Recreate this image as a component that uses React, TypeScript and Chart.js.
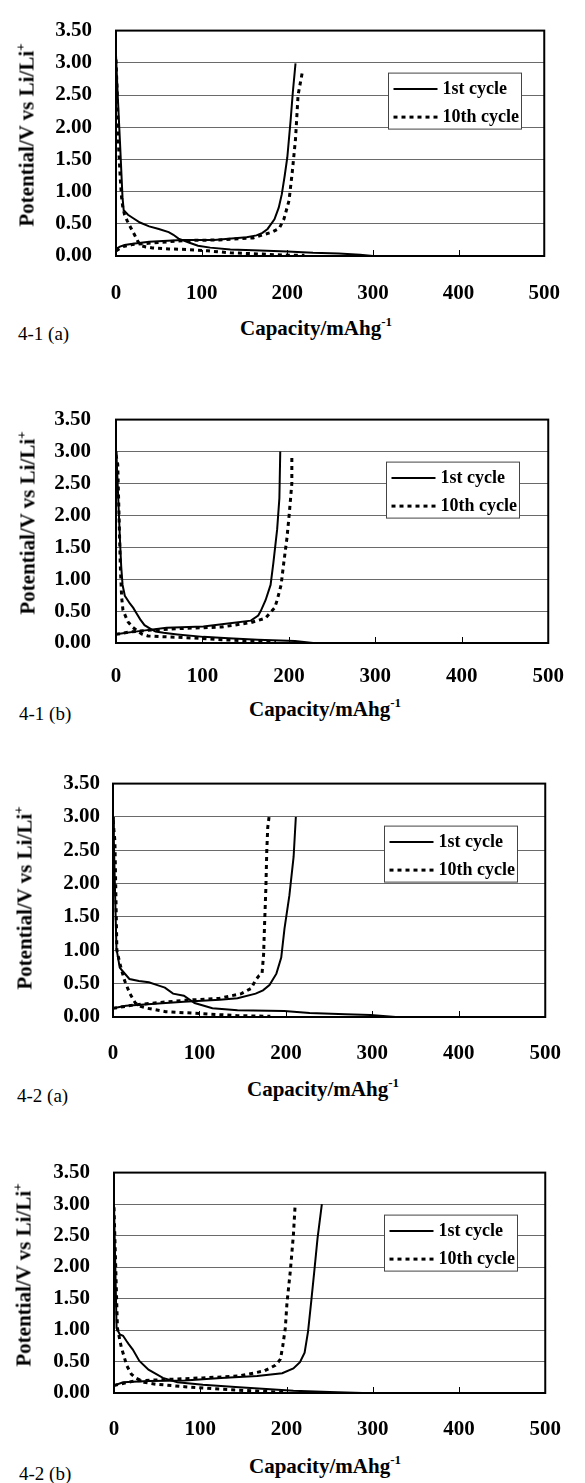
import React, { useEffect, useRef } from "react";
import { Chart, registerables } from "chart.js";

Chart.register(...registerables);

type Pt = [number, number];

// ---------- axes / text ----------
const capacityTicks = [0, 100, 200, 300, 400, 500];
const innerTickValues = [100, 200, 300, 400];
const potentialTicks = [0, 0.5, 1, 1.5, 2, 2.5, 3, 3.5];
const legendLabels = ["1st cycle", "10th cycle"];
const panelLabels = ["4-1 (a)", "4-1 (b)", "4-2 (a)", "4-2 (b)"];
const xTitle = "Capacity/mAhg";
const xTitleSup = "-1";
const yTitle = "Potential/V vs Li/Li";
const yTitleSup = "+";

// ---------- 4-1 (a) ----------
const a41_1st_discharge: Pt[] = [[0, 3.12], [2, 2.5], [4.6, 1.78], [7.6, 0.91], [9, 0.71], [14, 0.64], [19.7, 0.59], [28, 0.52], [38.7, 0.46], [50, 0.42], [61.5, 0.37], [67, 0.33], [73, 0.27], [85, 0.21], [95.7, 0.16], [110, 0.13], [133.5, 0.1], [160, 0.09], [200, 0.07], [230, 0.05], [260, 0.04], [285, 0.02], [300, 0.0]];
const a41_1st_charge: Pt[] = [[0, 0.11], [4.6, 0.145], [10, 0.17], [19.7, 0.19], [38.7, 0.22], [76.6, 0.25], [114.5, 0.25], [135, 0.27], [152.5, 0.29], [164, 0.32], [171, 0.36], [177, 0.42], [185, 0.57], [190, 0.75], [193.6, 0.96], [197, 1.25], [200, 1.53], [203.9, 2.11], [206.5, 2.55], [209.6, 2.99]];
const a41_10th_discharge: Pt[] = [[0, 3.05], [1.5, 2.5], [2.7, 1.78], [5, 1.2], [6.5, 0.91], [8, 0.75], [10, 0.64], [13, 0.55], [16, 0.47], [21.6, 0.33], [25.4, 0.23], [29.2, 0.16], [35, 0.14], [42.5, 0.125], [61.5, 0.11], [84, 0.1], [107, 0.08], [133.5, 0.05], [171, 0.03], [194, 0.015], [220, 0.01]];
const a41_10th_charge: Pt[] = [[0, 0.08], [8.3, 0.145], [19.7, 0.18], [40, 0.2], [80, 0.24], [120, 0.25], [160, 0.28], [171.6, 0.33], [182, 0.37], [190.6, 0.43], [196, 0.57], [202, 0.86], [205.7, 1.29], [209.6, 1.82], [212.6, 2.5], [217.9, 2.88]];

// ---------- 4-1 (b) ----------
const b41_1st_discharge: Pt[] = [[0, 3.0], [0.7, 2.9], [2.5, 2.3], [4.5, 1.64], [6, 1.2], [7.6, 0.91], [10.2, 0.74], [16, 0.62], [20, 0.55], [23.5, 0.47], [28, 0.37], [33, 0.28], [40, 0.22], [45.7, 0.18], [55, 0.16], [71, 0.135], [101, 0.096], [130, 0.075], [164, 0.05], [207, 0.03], [228, 0.0]];
const b41_1st_charge: Pt[] = [[0, 0.135], [10, 0.155], [29, 0.19], [58.5, 0.24], [101, 0.26], [139, 0.32], [156, 0.35], [164.5, 0.43], [167.4, 0.5], [173, 0.67], [178.8, 0.91], [182, 1.25], [186.4, 1.78], [189, 2.27], [190, 3.0]];
const b41_10th_discharge: Pt[] = [[0, 2.95], [2, 2.8], [3.5, 2.0], [5, 1.2], [6.5, 0.72], [8, 0.52], [11, 0.42], [14, 0.33], [19, 0.25], [24.6, 0.19], [30, 0.14], [37, 0.11], [50, 0.1], [71, 0.09], [100, 0.07], [122, 0.05], [164, 0.03], [185, 0.02]];
const b41_10th_charge: Pt[] = [[0, 0.135], [15, 0.17], [37, 0.2], [80, 0.23], [122, 0.25], [156, 0.32], [173, 0.39], [180.7, 0.51], [183.5, 0.55], [186.4, 0.67], [191, 0.91], [194, 1.25], [197.7, 1.64], [200.4, 2.02], [203.4, 2.5], [203.4, 2.92]];

// ---------- 4-2 (a) ----------
const a42_1st_discharge: Pt[] = [[0, 3.0], [1, 2.64], [2.5, 1.8], [4, 1.03], [7.8, 0.74], [11, 0.69], [19, 0.57], [30, 0.54], [41.5, 0.52], [53, 0.47], [60, 0.44], [69.5, 0.35], [82, 0.32], [94.4, 0.21], [115, 0.13], [144, 0.1], [198, 0.09], [227.5, 0.06], [269, 0.04], [298, 0.03], [327, 0.0]];
const a42_1st_charge: Pt[] = [[0, 0.13], [15, 0.17], [40, 0.19], [82, 0.23], [123.5, 0.26], [144, 0.28], [165, 0.35], [173.5, 0.4], [181, 0.48], [189, 0.65], [194.6, 0.89], [198.4, 1.33], [204, 1.82], [208.9, 2.4], [211.5, 3.0]];
const a42_10th_discharge: Pt[] = [[0, 2.95], [2.2, 2.64], [4.5, 1.0], [8, 0.8], [10, 0.7], [13.3, 0.55], [19.5, 0.35], [25.8, 0.21], [32, 0.16], [40, 0.13], [61, 0.08], [103, 0.05], [144, 0.02], [182, 0.01]];
const a42_10th_charge: Pt[] = [[0, 0.13], [23.7, 0.18], [82, 0.25], [123.5, 0.28], [148.5, 0.35], [160, 0.43], [164.7, 0.55], [169, 0.62], [172.4, 0.65], [174.2, 0.94], [175.3, 1.38], [176.8, 1.92], [177.9, 2.5], [179, 2.84], [180.5, 3.0]];

// ---------- 4-2 (b) ----------
const b42_1st_discharge: Pt[] = [[0, 3.0], [1.5, 2.0], [3, 1.03], [6.8, 0.93], [10.5, 0.91], [14.3, 0.83], [16.8, 0.78], [21.8, 0.69], [29.4, 0.51], [40, 0.37], [56.7, 0.24], [73.5, 0.17], [103, 0.13], [145, 0.09], [208, 0.035], [250, 0.015], [288, 0.0]];
const b42_1st_charge: Pt[] = [[0, 0.12], [10.5, 0.17], [40, 0.19], [82, 0.2], [124, 0.24], [166, 0.27], [195, 0.315], [208, 0.39], [215.6, 0.49], [221, 0.64], [225, 0.98], [228.8, 1.47], [232.5, 1.97], [236, 2.46], [241, 3.0]];
const b42_10th_discharge: Pt[] = [[0, 2.95], [2, 2.0], [4, 1.03], [8.4, 0.73], [14.7, 0.44], [20, 0.3], [25, 0.24], [35, 0.17], [48, 0.14], [82, 0.1], [124, 0.06], [166, 0.03], [200, 0.01]];
const b42_10th_charge: Pt[] = [[0, 0.12], [23, 0.19], [61, 0.215], [103, 0.24], [145, 0.27], [174, 0.35], [187, 0.44], [190.4, 0.49], [193, 0.54], [195.6, 0.74], [198.6, 1.03], [200.5, 1.42], [204.3, 1.92], [208, 2.51], [210, 2.98]];

const panelSeries = [
  [a41_1st_discharge, a41_1st_charge, a41_10th_discharge, a41_10th_charge],
  [b41_1st_discharge, b41_1st_charge, b41_10th_discharge, b41_10th_charge],
  [a42_1st_discharge, a42_1st_charge, a42_10th_discharge, a42_10th_charge],
  [b42_1st_discharge, b42_1st_charge, b42_10th_discharge, b42_10th_charge],
];

// ---------- layout (pixels) ----------
type Geo = {
  plotLeft: number; plotRight: number; plotTop: number; plotBottom: number;
  yLabPad: number; xLabPad: number; yTitleX: number; xTitleX: number; xTitleY: number;
  figLabelX: number; figLabelY: number; legendLeft: number;
};
const layouts: Geo[] = [
  { plotLeft: 116, plotRight: 555, plotTop: 14, plotBottom: 256, yLabPad: 24, xLabPad: 25, yTitleX: 27, xTitleX: 316, xTitleY: 328, figLabelX: 18, figLabelY: 333, legendLeft: 388 },
  { plotLeft: 116, plotRight: 557, plotTop: 402, plotBottom: 643, yLabPad: 25, xLabPad: 21, yTitleX: 28, xTitleX: 325, xTitleY: 709, figLabelX: 19, figLabelY: 713, legendLeft: 386 },
  { plotLeft: 113, plotRight: 560, plotTop: 778, plotBottom: 1017, yLabPad: 13, xLabPad: 24, yTitleX: 25, xTitleX: 323, xTitleY: 1089, figLabelX: 17, figLabelY: 1095, legendLeft: 384 },
  { plotLeft: 114, plotRight: 557, plotTop: 1156, plotBottom: 1393, yLabPad: 24, xLabPad: 24, yTitleX: 24, xTitleX: 325, xTitleY: 1466, figLabelX: 19, figLabelY: 1473, legendLeft: 384 },
];

const W = 585;
const TOP_PAD = 20;
const BOTTOM_H = 50;
const FONT = "'Liberation Serif', 'Times New Roman', serif";
const TICK_SIZE = 21;
const LEGEND_W = 133;
const LEGEND_H = 56;
const DASH = [4, 4];

function toXY(pts: Pt[]) {
  return pts.map(([x, y]) => ({ x, y }));
}

function Panel({ series, geo, label }: { series: Pt[][]; geo: Geo; label: string }) {
  const ref = useRef<HTMLCanvasElement | null>(null);
  const canvasTop = geo.plotTop - TOP_PAD;
  const H = geo.plotBottom - geo.plotTop + TOP_PAD + BOTTOM_H;

  useEffect(() => {
    const canvas = ref.current;
    if (!canvas) return;
    const framePlugin = {
      id: "frame",
      afterDatasetsDraw(chart: any) {
        const { ctx, chartArea: a, scales } = chart;
        ctx.save();
        // inner tick marks on the capacity axis
        ctx.strokeStyle = "#000";
        ctx.lineWidth = 1;
        for (const v of innerTickValues) {
          const x = Math.round(scales.x.getPixelForValue(v)) + 0.5;
          ctx.beginPath();
          ctx.moveTo(x, a.bottom);
          ctx.lineTo(x, a.bottom - 6);
          ctx.stroke();
        }
        // plot frame
        ctx.lineWidth = 2;
        ctx.strokeRect(a.left, a.top, a.right - a.left, a.bottom - a.top);
        // legend box
        const lx = geo.legendLeft + 0.5;
        const ly = a.top + 42 + 0.5;
        ctx.fillStyle = "#fff";
        ctx.fillRect(lx, ly, LEGEND_W, LEGEND_H);
        ctx.strokeStyle = "#444";
        ctx.lineWidth = 1;
        ctx.strokeRect(lx, ly, LEGEND_W, LEGEND_H);
        const rows = [ly + 16, ly + 44];
        ctx.strokeStyle = "#000";
        // solid sample
        ctx.lineWidth = 2;
        ctx.setLineDash([]);
        ctx.beginPath();
        ctx.moveTo(lx + 5, rows[0]);
        ctx.lineTo(lx + 49, rows[0]);
        ctx.stroke();
        // dashed sample
        ctx.lineWidth = 3;
        ctx.setLineDash(DASH);
        ctx.beginPath();
        ctx.moveTo(lx + 5, rows[1]);
        ctx.lineTo(lx + 51, rows[1]);
        ctx.stroke();
        ctx.setLineDash([]);
        ctx.fillStyle = "#000";
        ctx.font = `bold 18px ${FONT}`;
        ctx.textBaseline = "middle";
        ctx.textAlign = "left";
        ctx.fillText(legendLabels[0], lx + 54, rows[0]);
        ctx.fillText(legendLabels[1], lx + 54, rows[1]);
        ctx.restore();
      },
    };

    const solid = { borderColor: "#000", borderWidth: 2, showLine: true, pointRadius: 0, tension: 0, fill: false };
    const dashed = { borderColor: "#000", borderWidth: 3, borderDash: DASH, borderCapStyle: "butt", showLine: true, pointRadius: 0, tension: 0, fill: false };

    const chart = new Chart(canvas, {
      type: "scatter",
      data: {
        datasets: [
          { label: legendLabels[0], data: toXY(series[0]), ...solid },
          { label: legendLabels[0], data: toXY(series[1]), ...solid },
          { label: legendLabels[1], data: toXY(series[2]), ...dashed },
          { label: legendLabels[1], data: toXY(series[3]), ...dashed },
        ] as any,
      },
      options: {
        animation: false,
        responsive: false,
        devicePixelRatio: 1,
        layout: { padding: { top: TOP_PAD, right: W - geo.plotRight, left: 0, bottom: 0 } },
        plugins: { legend: { display: false }, tooltip: { enabled: false } },
        scales: {
          x: {
            type: "linear",
            min: capacityTicks[0],
            max: capacityTicks[capacityTicks.length - 1],
            afterBuildTicks: (s: any) => {
              s.ticks = capacityTicks.map((v) => ({ value: v }));
            },
            grid: { display: false, drawTicks: false },
            border: { display: false },
            ticks: {
              color: "#000",
              font: { family: FONT, size: TICK_SIZE, weight: "bold" },
              padding: geo.xLabPad,
              maxRotation: 0,
              autoSkip: false,
            },
            afterFit: (s: any) => {
              s.height = BOTTOM_H;
            },
          },
          y: {
            type: "linear",
            min: potentialTicks[0],
            max: potentialTicks[potentialTicks.length - 1],
            afterBuildTicks: (s: any) => {
              s.ticks = potentialTicks.map((v) => ({ value: v }));
            },
            grid: { color: "#6a6a6a", lineWidth: 1, drawTicks: false },
            border: { display: false },
            ticks: {
              color: "#000",
              font: { family: FONT, size: TICK_SIZE, weight: "bold" },
              padding: geo.yLabPad,
              autoSkip: false,
              callback: (v: any) => Number(v).toFixed(2),
            },
            afterFit: (s: any) => {
              s.width = geo.plotLeft;
            },
          },
        },
      } as any,
      plugins: [framePlugin as any],
    });
    return () => chart.destroy();
  }, [series, geo]);

  const plotMid = (geo.plotTop + geo.plotBottom) / 2;
  const titleFont = { fontFamily: FONT, fontWeight: "bold" as const, fontSize: 21, lineHeight: 1, whiteSpace: "nowrap" as const, color: "#000" };

  return (
    <>
      <canvas
        ref={ref}
        width={W}
        height={H}
        style={{ position: "absolute", left: 0, top: canvasTop, width: W, height: H }}
      />
      <div
        style={{
          position: "absolute",
          left: geo.yTitleX,
          top: plotMid,
          transform: "translate(-50%, -50%) rotate(-90deg)",
          ...titleFont,
        }}
      >
        {yTitle}
        <sup style={{ fontSize: 13, verticalAlign: 9, lineHeight: 0 }}>{yTitleSup}</sup>
      </div>
      <div
        style={{
          position: "absolute",
          left: geo.xTitleX,
          top: geo.xTitleY,
          transform: "translate(-50%, -50%)",
          ...titleFont,
        }}
      >
        {xTitle}
        <sup style={{ fontSize: 13, verticalAlign: 9, lineHeight: 0 }}>{xTitleSup}</sup>
      </div>
      <div
        style={{
          position: "absolute",
          left: geo.figLabelX,
          top: geo.figLabelY,
          transform: "translate(0, -50%)",
          fontFamily: FONT,
          fontSize: 19,
          lineHeight: 1,
          whiteSpace: "nowrap",
          color: "#000",
        }}
      >
        {label}
      </div>
    </>
  );
}

export default function App() {
  return (
    <div
      style={{
        position: "absolute",
        left: 0,
        top: 0,
        width: W,
        height: 1483,
        overflow: "hidden",
        background: "#fff",
      }}
    >
      {layouts.map((g, i) => (
        <Panel key={i} series={panelSeries[i]} geo={g} label={panelLabels[i]} />
      ))}
    </div>
  );
}
